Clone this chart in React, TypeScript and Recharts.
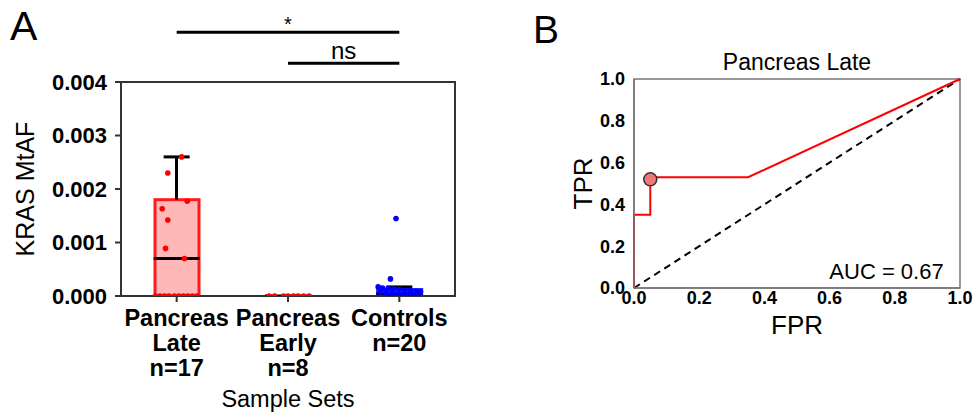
import React from "react";
import {
  ComposedChart,
  Bar,
  Scatter,
  Line,
  XAxis,
  YAxis,
  ReferenceLine,
  ReferenceArea,
  ReferenceDot,
} from "recharts";

// ---- panel A data ----
const groups = ["Pancreas Late", "Pancreas Early", "Controls"];
const groupTickLines = [
  ["Pancreas", "Late", "n=17"],
  ["Pancreas", "Early", "n=8"],
  ["Controls", "n=20"],
];
const boxLow = [0, 0, 0];
const boxHigh = [0.0018, 0, 0.00012];
const medians = [0.0007, 0, 0.00004];
const whiskerHigh = [0.0026, 0, 0.00017];
const boxFill = ["#ffb8b8", "#ffb8b8", "#8c8cff"];
const boxStroke = ["#ff1a1a", "#ff1a1a", "#1a1aff"];
const dotColor = ["#ff0000", "#ff0000", "#0000ff"];

const lateValues = [0.0026, 0.0023, 0.00177, 0.00163, 0.00142, 0.00089, 0.0007, 0, 0, 0, 0, 0, 0, 0, 0, 0, 0];
const lateJitter = [0.045, -0.08, 0.095, -0.13, -0.08, -0.1, 0.07, -0.19, -0.15, -0.11, -0.07, -0.02, 0.02, 0.06, 0.1, 0.14, 0.18];
const earlyValues = [0, 0, 0, 0, 0, 0, 0, 0];
const earlyJitter = [-0.17, -0.12, -0.04, 0.0, 0.05, 0.09, 0.14, 0.19];
const controlValues = [
  0.00145, 0.00032, 0.00017, 0.00015, 0.00014, 0.00013, 0.00012, 0.0001, 0.0001, 0.00009,
  0.00008, 0.00007, 0.00006, 0.00005, 0.00004, 0.00003, 0.00002, 0.00001, 0, 0,
];
const controlJitter = [
  -0.03, -0.08, -0.19, -0.15, -0.1, -0.05, 0.0, 0.05, 0.1, 0.15, 0.19, -0.17, -0.12, -0.07, -0.02, 0.03, 0.08, 0.13, 0.17, -0.09,
];
const yTicksA = [0, 0.001, 0.002, 0.003, 0.004];

// significance brackets (group index from, to, y level, label)
const sigFrom = [0, 1];
const sigTo = [2, 2];
const sigLevel = [0.00493, 0.00435];
const sigText = ["*", "ns"];

// ---- panel B data ----
const rocFpr = [0, 0, 0.05, 0.05, 0.35, 1];
const rocTpr = [0, 0.35, 0.35, 0.53, 0.53, 1];
const chanceFpr = [0, 1];
const chanceTpr = [0, 1];
const bestFpr = 0.05;
const bestTpr = 0.52;
const aucText = "AUC = 0.67";
const rocTicks = [0, 0.2, 0.4, 0.6, 0.8, 1];

const FONT = "'Liberation Sans', Arial, Helvetica, sans-serif";

const boxRows = groups.map((name, i) => ({
  name,
  box: [boxLow[i], boxHigh[i]],
  whisker: [boxHigh[i], whiskerHigh[i]],
}));
const medianPts = medians.map((v, i) => ({ x: i + 0.5, y: v }));
const capPts = whiskerHigh.map((v, i) => ({ x: i + 0.5, y: v })).filter((p, i) => whiskerHigh[i] > boxHigh[i]);
const toPts = (vals: number[], jit: number[], gi: number) => vals.map((v, k) => ({ x: gi + 0.5 + jit[k], y: v }));
const pointSets = [
  toPts(lateValues, lateJitter, 0),
  toPts(earlyValues, earlyJitter, 1),
  toPts(controlValues, controlJitter, 2),
];
const rocData = rocFpr.map((x, i) => ({ x, y: rocTpr[i] }));
const chanceData = chanceFpr.map((x, i) => ({ x, y: chanceTpr[i] }));

const hLine = (half: number) => (p: any) => (
  <line x1={p.cx - half} x2={p.cx + half} y1={p.cy} y2={p.cy} stroke="#000" strokeWidth={3} />
);
const dot = (color: string) => (p: any) => <circle cx={p.cx} cy={p.cy} r={2.8} fill={color} />;

const rotLabel = (x: number, text: string, size: number) => (props: any) => {
  const vb = props.viewBox || {};
  const cy = vb.y + vb.height / 2;
  return (
    <text
      x={x}
      y={cy}
      transform={`rotate(-90 ${x} ${cy})`}
      textAnchor="middle"
      dominantBaseline="central"
      fontFamily={FONT}
      fontSize={size}
      fill="#000"
    >
      {text}
    </text>
  );
};

const GroupTick = (p: any) => {
  const idx = groups.indexOf(p.payload.value);
  const lines = groupTickLines[idx] || [];
  return (
    <text x={p.x} y={p.y} textAnchor="middle" fontFamily={FONT} fontSize={23.5} fontWeight="bold" fill="#000">
      {lines.map((l, k) => (
        <tspan key={k} x={p.x} dy={k === 0 ? 22 : 25}>
          {l}
        </tspan>
      ))}
    </text>
  );
};

function PanelA() {
  return (
    <ComposedChart width={470} height={413} data={boxRows} margin={{ top: 82, right: 15, bottom: 0, left: 0 }}>
      <XAxis
        xAxisId="cat"
        dataKey="name"
        type="category"
        height={117}
        tick={GroupTick}
        tickSize={6}
        tickMargin={2}
        interval={0}
        stroke="#333"
        strokeWidth={2}
        label={{ value: "Sample Sets", position: "insideTop", offset: 94, fontSize: 23.5, fontFamily: FONT, fill: "#000" }}
      />
      <XAxis xAxisId="whisk" dataKey="name" type="category" hide />
      <XAxis xAxisId="num" dataKey="x" type="number" domain={[0, 3]} hide allowDataOverflow />
      <YAxis
        dataKey="y"
        width={121}
        domain={[0, 0.004]}
        ticks={yTicksA}
        allowDataOverflow
        tickFormatter={(v: number) => v.toFixed(3)}
        tick={{ fontSize: 22, fontWeight: "bold", fontFamily: FONT, fill: "#000" }}
        tickSize={6}
        tickMargin={8}
        stroke="#333"
        strokeWidth={2}
        label={rotLabel(25, "KRAS MtAF", 25)}
      />
      <ReferenceArea xAxisId="num" x1={0} x2={3} y1={0} y2={0.004} fill="none" stroke="#333" strokeWidth={2} />
      <Bar xAxisId="cat" dataKey="box" barSize={44} isAnimationActive={false} strokeWidth={3}
        shape={(p: any) => (
          p.height > 0 ? (
            <rect x={p.x} y={p.y} width={p.width} height={p.height}
              fill={boxFill[p.index]} stroke={boxStroke[p.index]} strokeWidth={3} />
          ) : <g />
        )}
      />
      <Bar xAxisId="whisk" dataKey="whisker" barSize={3} fill="#000" isAnimationActive={false} />
      <Scatter xAxisId="num" data={medianPts} dataKey="y" shape={hLine(23)} isAnimationActive={false} />
      <Scatter xAxisId="num" data={capPts} dataKey="y" shape={hLine(13)} isAnimationActive={false} />
      {pointSets.map((pts, i) => (
        <Scatter key={i} xAxisId="num" data={pts} dataKey="y" shape={dot(dotColor[i])} isAnimationActive={false} />
      ))}
      {sigText.map((t, i) => (
        <ReferenceLine
          key={t}
          xAxisId="num"
          ifOverflow="visible"
          segment={[
            { x: sigFrom[i] + 0.5, y: sigLevel[i] },
            { x: sigTo[i] + 0.5, y: sigLevel[i] },
          ]}
          stroke="#000"
          strokeWidth={3}
          label={{ value: t, position: "top", offset: t === "*" ? 1 : 4, fontSize: t === "*" ? 20 : 24, fontFamily: FONT, fill: "#000" }}
        />
      ))}
    </ComposedChart>
  );
}

function PanelB() {
  return (
    <ComposedChart width={455} height={413} margin={{ top: 79, right: 15, bottom: 0, left: 0 }}>
      <XAxis
        dataKey="x"
        type="number"
        domain={[0, 1]}
        ticks={rocTicks}
        tickFormatter={(v: number) => v.toFixed(1)}
        height={125}
        tickLine={false}
        tickSize={0}
        tickMargin={3}
        stroke="#777"
        strokeWidth={1.5}
        tick={{ fontSize: 18, fontWeight: "bold", fontFamily: FONT, fill: "#000" }}
        label={{ value: "FPR", position: "insideTop", offset: 28, fontSize: 26, fontFamily: FONT, fill: "#000" }}
      />
      <YAxis
        dataKey="y"
        type="number"
        width={114}
        domain={[0, 1]}
        ticks={rocTicks}
        tickFormatter={(v: number) => v.toFixed(1)}
        tickLine={false}
        tickSize={0}
        tickMargin={9}
        stroke="#777"
        strokeWidth={1.5}
        tick={{ fontSize: 18, fontWeight: "bold", fontFamily: FONT, fill: "#000" }}
        label={rotLabel(63, "TPR", 26)}
      />
      <ReferenceArea x1={0} x2={1} y1={0} y2={1} fill="none" stroke="#777" strokeWidth={1.5}
        label={{ value: "Pancreas Late", position: "top", offset: 9, fontSize: 23, fontFamily: FONT, fill: "#000" }} />
      <Line data={chanceData} dataKey="y" stroke="#000" strokeWidth={2} strokeDasharray="7 5" dot={false} isAnimationActive={false} />
      <Line data={rocData} dataKey="y" stroke="#ff0000" strokeWidth={2} dot={false} isAnimationActive={false} type="linear" />
      <ReferenceDot x={bestFpr} y={bestTpr} r={6.5} fill="#f07878" stroke="#333" strokeWidth={1.5} />
      <ReferenceDot x={0.95} y={0.08} r={0} fill="none" stroke="none"
        label={{ value: aucText, position: "left", offset: 0, fontSize: 22, fontFamily: FONT, fill: "#000" }} />
    </ComposedChart>
  );
}

export default function App() {
  return (
    <div style={{ position: "absolute", left: 0, top: 0, width: 975, height: 413, background: "#fff", fontFamily: FONT }}>
      <div style={{ position: "absolute", left: 0, top: 0 }}>
        <PanelA />
      </div>
      <div style={{ position: "absolute", left: 520, top: 0 }}>
        <PanelB />
      </div>
      <div style={{ position: "absolute", left: 10, top: 2, fontSize: 41, lineHeight: "48px" }}>A</div>
      <div style={{ position: "absolute", left: 533, top: 7, fontSize: 39, lineHeight: "46px" }}>B</div>
    </div>
  );
}
